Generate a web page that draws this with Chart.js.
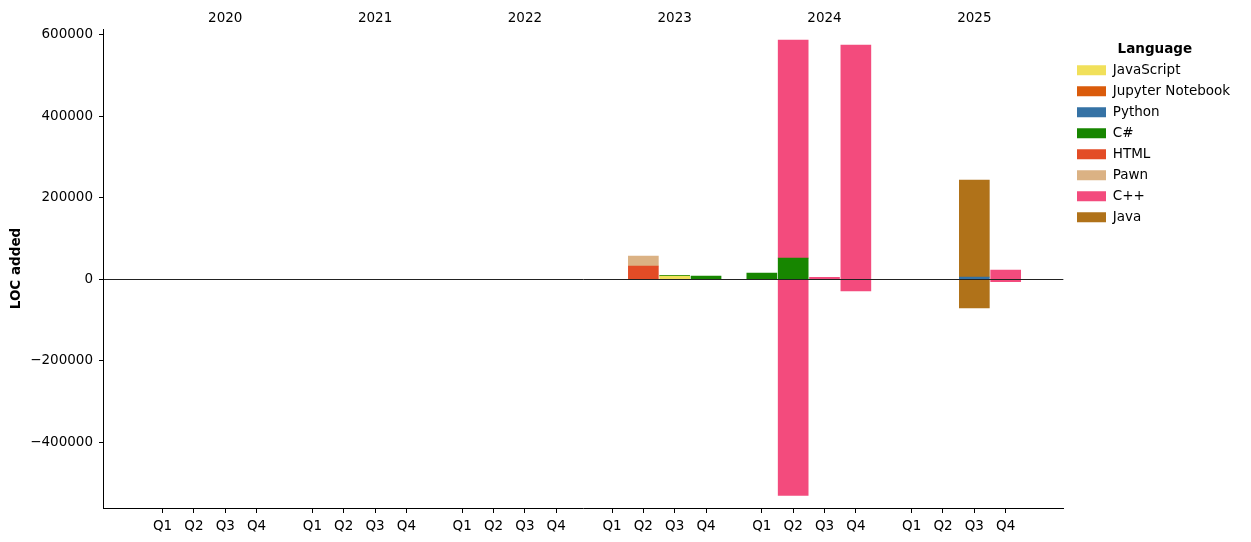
<!DOCTYPE html>
<html>
<head>
<meta charset="utf-8">
<script src="https://cdn.jsdelivr.net/npm/chart.js@4.4.1/dist/chart.umd.min.js"></script>
<style>
  body { margin: 0; background: #fff; }
  #wrap { width: 1251px; height: 542px; }
</style>
</head>
<body>
<div id="wrap"><canvas id="myChart" width="1251" height="542"></canvas></div>
<script>
// Categories
const years = ['2020', '2021', '2022', '2023', '2024', '2025'];
const quarters = ['Q1', 'Q2', 'Q3', 'Q4'];
const languages = ['JavaScript', 'Jupyter Notebook', 'Python', 'C#', 'HTML', 'Pawn', 'C++', 'Java'];
const colors = ['#f1e05a', '#da5b0b', '#3572a5', '#178600', '#e34c26', '#dbb284', '#f34b7d', '#b07219'];

// LOC added per quarter, 2020 Q1 ... 2025 Q4 (4 values per year)
const jsAdded      = [0,0,0,0, 0,0,0,0, 0,0,0,0, 0,0,8000,0,      0,0,0,0,                 0,0,0,0];
const jupyterAdded = [0,0,0,0, 0,0,0,0, 0,0,0,0, 0,0,0,0,         0,0,0,0,                 0,0,0,0];
const pythonAdded  = [0,0,0,0, 0,0,0,0, 0,0,0,0, 0,0,0,0,         0,0,0,0,                 0,0,5500,0];
const csharpAdded  = [0,0,0,0, 0,0,0,0, 0,0,0,0, 0,0,2000,8000,   15500,52000,0,0,         0,0,0,0];
const htmlAdded    = [0,0,0,0, 0,0,0,0, 0,0,0,0, 0,32600,0,0,     0,0,0,0,                 0,0,0,0];
const pawnAdded    = [0,0,0,0, 0,0,0,0, 0,0,0,0, 0,24400,0,0,     0,0,0,0,                 0,0,0,0];
const cppAdded     = [0,0,0,0, 0,0,0,0, 0,0,0,0, 0,0,0,0,         0,535000,5000,574700,    0,0,0,22800];
const javaAdded    = [0,0,0,0, 0,0,0,0, 0,0,0,0, 0,0,0,0,         0,0,0,0,                 0,0,238000,0];

// LOC removed (negative part of the bars)
const cppRemoved   = [0,0,0,0, 0,0,0,0, 0,0,0,0, 0,0,0,0,         0,-530000,0,-28700,      0,0,0,-5800];
const javaRemoved  = [0,0,0,0, 0,0,0,0, 0,0,0,0, 0,0,0,0,         0,0,0,0,                 0,0,-70400,0];

const yTicks = [-400000, -200000, 0, 200000, 400000, 600000];

// x layout: one unit per quarter, years spaced a bit wider
const YEAR_STEP = 4.78;
const xPos = [];
const xLabels = [];
years.forEach((y, yi) => quarters.forEach((q, qi) => {
    xPos.push(yi * YEAR_STEP + qi);
    xLabels.push(q);
}));
const yearPos = years.map((y, yi) => yi * YEAR_STEP + 2);

const added = [jsAdded, jupyterAdded, pythonAdded, csharpAdded, htmlAdded, pawnAdded, cppAdded, javaAdded];

// empty quarters get no bar at all
function toPoints(arr) {
    return arr.map((v, i) => ({ x: xPos[i], y: v === 0 ? null : v }));
}

const datasets = languages.map((name, i) => ({
    label: name,
    data: toPoints(added[i]),
    backgroundColor: colors[i],
    borderColor: colors[i],
    borderWidth: 0
}));
datasets.push({ label: 'C++ removed', data: toPoints(cppRemoved), backgroundColor: colors[6], borderColor: colors[6], borderWidth: 0 });
datasets.push({ label: 'Java removed', data: toPoints(javaRemoved), backgroundColor: colors[7], borderColor: colors[7], borderWidth: 0 });

Chart.defaults.font.family = 'DejaVu Sans';
Chart.defaults.font.size = 13.5;
Chart.defaults.color = '#000';

const xMin = -1.9;
const xMax = 5 * YEAR_STEP + 3 + 1.84;

// move legend items to the right a little
const legendShift = {
    id: 'legendShift',
    afterLayout(chart) {
        const lg = chart.legend;
        lg.left = 1069.5;
        lg.right = lg.left + lg.width;
    }
};

const ctx = document.getElementById('myChart').getContext('2d');
const myChart = new Chart(ctx, {
    type: 'bar',
    data: { datasets: datasets },
    plugins: [legendShift],
    options: {
        responsive: false,
        animation: false,
        barThickness: 30,
        layout: { padding: { top: 0, bottom: 0, left: 0, right: 17 } },
        plugins: {
            legend: {
                position: 'right',
                align: 'start',
                title: {
                    display: true,
                    text: 'Language',
                    font: { weight: 'bold', size: 13.5, lineHeight: 1 },
                    padding: { top: 42.5, bottom: 0 }
                },
                labels: {
                    boxWidth: 29,
                    boxHeight: 10,
                    padding: 7.5,
                    filter: item => item.datasetIndex < languages.length
                }
            },
            tooltip: { enabled: false }
        },
        scales: {
            x: {
                type: 'linear',
                position: 'bottom',
                stacked: true,
                offset: false,
                min: xMin,
                max: xMax,
                afterFit: s => { s.height = 34; },
                afterBuildTicks: s => { s.ticks = xPos.map(v => ({ value: v })); },
                ticks: {
                    autoSkip: false,
                    maxRotation: 0,
                    padding: 5,
                    callback: (v, i) => xLabels[i]
                },
                grid: { offset: false, drawOnChartArea: false, drawTicks: true, tickLength: 5, tickColor: '#000' },
                border: { display: true, color: '#000', width: 1 }
            },
            x2: {
                type: 'linear',
                position: 'top',
                offset: false,
                min: xMin,
                max: xMax,
                afterFit: s => { s.height = 29; },
                afterBuildTicks: s => { s.ticks = yearPos.map(v => ({ value: v })); },
                ticks: {
                    autoSkip: false,
                    maxRotation: 0,
                    padding: 2,
                    callback: (v, i) => years[i]
                },
                grid: { display: false, drawTicks: false },
                border: { display: false }
            },
            y: {
                stacked: true,
                min: -561000,
                max: 614000,
                afterFit: s => { s.width = 103; },
                afterBuildTicks: s => { s.ticks = yTicks.map(v => ({ value: v })); },
                ticks: {
                    padding: 6,
                    callback: v => (v < 0 ? '\u2212' : '') + Math.abs(v)
                },
                // zero line drawn above the bars
                grid: {
                    z: 1,
                    drawTicks: true,
                    tickLength: 4,
                    tickColor: '#000',
                    color: c => (c.tick && c.tick.value === 0 ? '#222' : 'rgba(0,0,0,0)'),
                    lineWidth: 1
                },
                border: { display: true, color: '#000', width: 1, z: 1 },
                title: {
                    display: true,
                    text: 'LOC added',
                    font: { weight: 'bold', size: 13.5 },
                    padding: { top: 8, bottom: 0 }
                }
            }
        }
    }
});
</script>
</body>
</html>
